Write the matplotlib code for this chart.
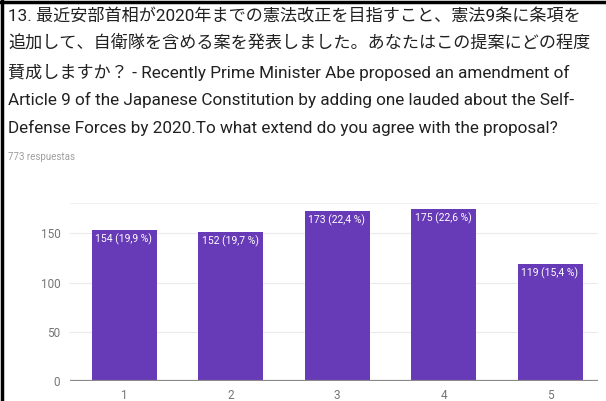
import matplotlib
matplotlib.use("Agg")
import matplotlib.pyplot as plt
from matplotlib.lines import Line2D

# survey answers, scale 1..5
categories = ["1", "2", "3", "4", "5"]
counts = [154, 152, 173, 175, 119]
percents = ["19,9", "19,7", "22,4", "22,6", "15,4"]
yticks = [0, 50, 100, 150]

title_lines = [
    "13. 最近安部首相が2020年までの憲法改正を目指すこと、憲法9条に条項を",
    "追加して、自衛隊を含める案を発表しました。あなたはこの提案にどの程度",
    "賛成しますか？ - Recently Prime Minister Abe proposed an amendment of",
    "Article 9 of the Japanese Constitution by adding one lauded about the Self-",
    "Defense Forces by 2020.To what extend do you agree with the proposal?",
]
subtitle = "773 respuestas"

fam = ["Roboto", "Noto Sans CJK JP", "DejaVu Sans"]

fig = plt.figure(figsize=(6.06, 4.01), dpi=100)
fig.patch.set_facecolor("white")

# question text
line_y = [17, 43, 72, 100, 128]
for txt, yp in zip(title_lines, line_y):
    fig.text(8 / 606, 1 - yp / 401, txt, family=fam, fontsize=12.3,
             color="#212121", ha="left", va="center")
fig.text(8 / 606, 1 - 157 / 401, subtitle, family=fam, fontsize=7,
         color="#9e9e9e", ha="left", va="center")

# frame lines on the left and top
fig.add_artist(Line2D([2 / 606, 2 / 606], [0, 1], color="black", lw=2.5,
                      transform=fig.transFigure))
fig.add_artist(Line2D([0, 1], [1 - 2 / 401, 1 - 2 / 401], color="black", lw=2.5,
                      transform=fig.transFigure))

ax = fig.add_axes([70 / 606, 1 - 381 / 401, (598 - 70) / 606, (381 - 203) / 401])
x = list(range(1, len(categories) + 1))
w = 0.61
bars = ax.bar(x, counts, width=w, color="#673ab7", zorder=3)

for xi, c, p in zip(x, counts, percents):
    ax.annotate(f"{c} ({p} %)", xy=(xi - w / 2, c), xytext=(2.5, -2.5),
                textcoords="offset points", ha="left", va="top",
                color="white", fontsize=7.5, family=fam, zorder=4)

ax.set_xlim(0.49, 5.45)
ax.set_ylim(0, 181)
ax.set_yticks(yticks)
ax.set_xticks(x)
ax.set_xticklabels(categories)
ax.grid(axis="y", color="#ebebeb", lw=0.8, zorder=0)
ax.axhline(181, color="#f0f0f0", lw=0.8, zorder=0)
ax.axhline(0, color="#8a8a8a", lw=1.6, zorder=5)
for s in ax.spines.values():
    s.set_visible(False)
ax.tick_params(length=0, colors="#757575", labelsize=8.5)
ax.tick_params(axis="y", pad=7)
ax.tick_params(axis="x", pad=6)
for lab in ax.get_xticklabels() + ax.get_yticklabels():
    lab.set_family(fam)

fig.savefig("out.png", dpi=100)
